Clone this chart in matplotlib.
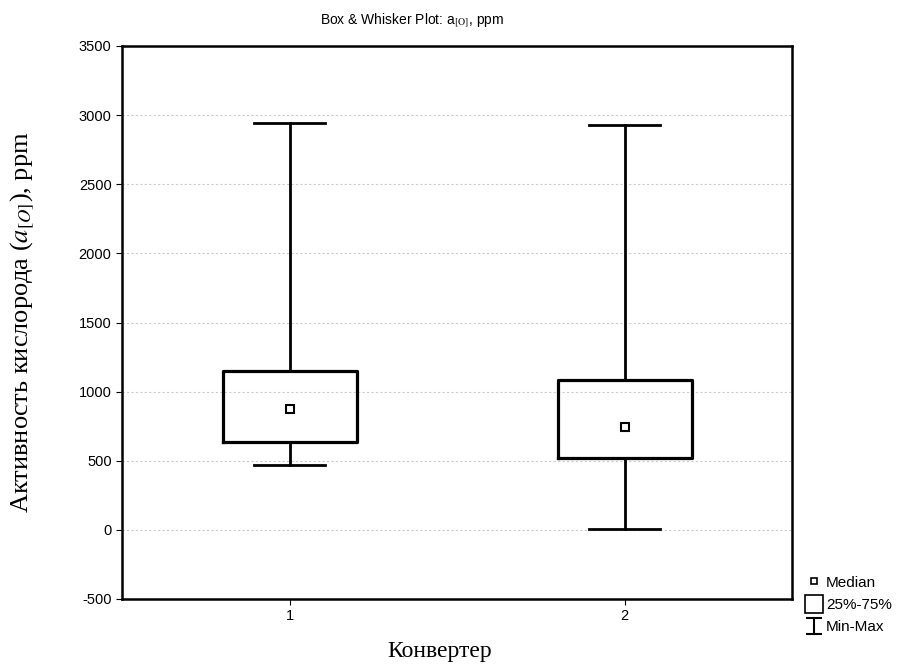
import matplotlib
matplotlib.use("Agg")
import matplotlib.pyplot as plt
from matplotlib.lines import Line2D
from matplotlib.path import Path

converters = ["1", "2"]
positions = [1, 2]
med = [875, 745]
q1 = [636, 520]
q3 = [1150, 1085]
vmin = [470, 5]
vmax = [2943, 2930]
yticks = [-500, 0, 500, 1000, 1500, 2000, 2500, 3000, 3500]

plt.rcParams['mathtext.fontset'] = 'stix'
plt.rcParams['axes.unicode_minus'] = False
fig = plt.figure(figsize=(9.18, 6.65), dpi=100)
ax = fig.add_axes([122/918, 1-599/665, (792-122)/918, (599-46)/665])

stats = []
for i in range(len(converters)):
    stats.append(dict(med=med[i], q1=q1[i], q3=q3[i], whislo=vmin[i], whishi=vmax[i],
                      label=converters[i]))
ax.bxp(stats, positions=positions, widths=0.4, showfliers=False,
       boxprops=dict(color='black', linewidth=2.3),
       whiskerprops=dict(color='black', linewidth=2.0),
       capprops=dict(color='black', linewidth=2.0),
       medianprops=dict(linewidth=0),
       capwidths=0.21)
ax.plot(positions, med, linestyle='none', marker='s', markersize=6,
        markerfacecolor='white', markeredgecolor='black', markeredgewidth=1.5, zorder=5)

ax.set_xlim(0.5, 2.5)
ax.set_ylim(-500, 3500)
ax.set_yticks(yticks)
ax.set_xticks(positions)
ax.set_xticklabels(converters)
ax.yaxis.grid(True, linestyle=(0, (2, 2)), color='#cccccc', linewidth=0.8)
ax.set_axisbelow(True)
for s in ax.spines.values():
    s.set_linewidth(1.8)
ax.tick_params(direction='out', length=4, width=0.8, labelsize=10.5,
               labelfontfamily='Liberation Sans')

fig.text(22/918, 1-322/665, r"Активность кислорода ($\mathit{a}_{[\mathit{O}]}$), ppm",
         rotation=90, ha='center', va='center', fontsize=19, family='Liberation Serif')
fig.text(440/918, 1-651/665, "Конвертер", ha='center', va='center', fontsize=17,
         family='Liberation Serif')
fig.text(412/918, 1-20/665, r"Box & Whisker Plot: a$_{[\mathrm{O}]}$, ppm", ha='center',
         va='center', fontsize=10, family='Liberation Sans')

ibar = Path([(-1, 1), (1, 1), (0, 1), (0, -1), (-1, -1), (1, -1)],
            [Path.MOVETO, Path.LINETO, Path.MOVETO, Path.LINETO, Path.MOVETO, Path.LINETO])
handles = [
    Line2D([], [], linestyle='none', marker='s', markersize=5, markerfacecolor='white',
           markeredgecolor='black', markeredgewidth=1.2),
    Line2D([], [], linestyle='none', marker='s', markersize=13, markerfacecolor='white',
           markeredgecolor='black', markeredgewidth=1.2),
    Line2D([], [], linestyle='none', marker=ibar, markersize=12, markeredgecolor='black',
           markeredgewidth=1.5),
]
fig.legend(handles, ["Median", "25%-75%", "Min-Max"], loc='upper left',
           bbox_to_anchor=(800/918, 1-568/665), frameon=False, handlelength=0.8,
           handletextpad=0.4, labelspacing=0.55, borderpad=0,
           prop=dict(family='Liberation Sans', size=11))

fig.savefig("out.png", dpi=100)
